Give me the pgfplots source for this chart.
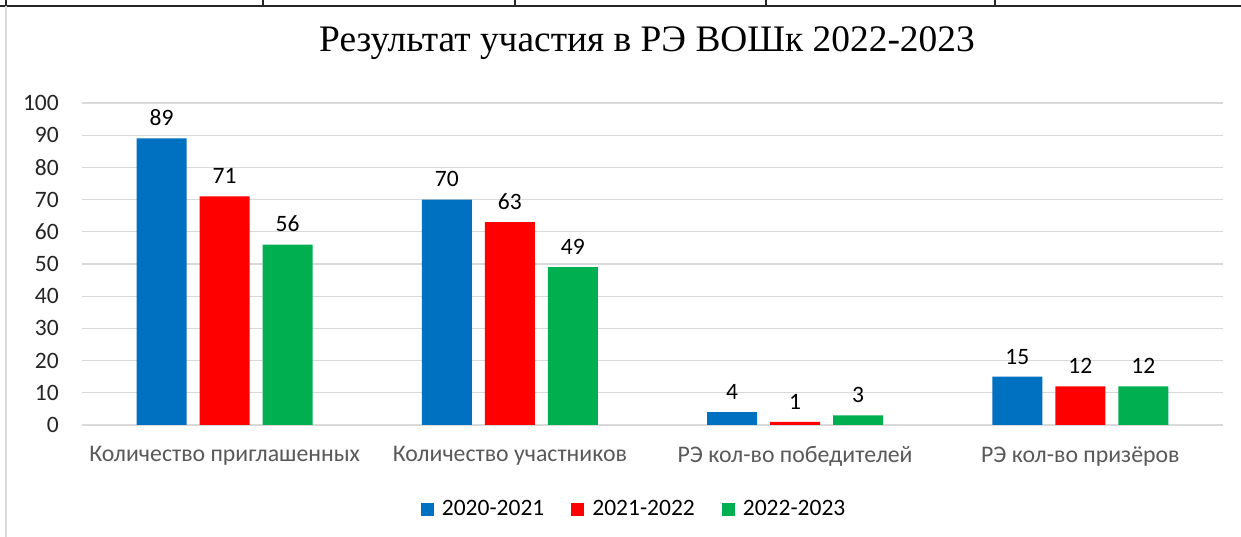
\documentclass[border=0pt]{standalone}
\usepackage{fontspec}
\setmainfont{Carlito}
\newfontfamily\titlefont{Liberation Serif}
\usepackage{pgfplots}
\pgfplotsset{compat=1.18}
\definecolor{cb}{HTML}{0070C0}
\definecolor{cr}{HTML}{FF0000}
\definecolor{cg}{HTML}{00B050}
\definecolor{gridc}{HTML}{D9D9D9}
\definecolor{ticktxt}{HTML}{262626}
\definecolor{cattxt}{HTML}{595959}
\newcommand{\lblfont}{\fontsize{23.5}{28}\selectfont}
\begin{document}
\begin{tikzpicture}
\path[use as bounding box, fill=white] (0pt,0pt) rectangle (1241pt,537pt);
\draw[line width=1.6pt, black!85] (0pt,531pt) -- (1241pt,531pt);
\foreach \x in {6,263,515,766,995} \draw[line width=1.3pt, black!85] (\x pt,537pt) -- (\x pt,531pt);
\draw[line width=1.5pt, gridc] (6pt,531pt) -- (6pt,0pt);
\node[anchor=base, font=\titlefont\fontsize{37.4}{44}\selectfont, text=black] at (647pt,485pt) {Результат участия в РЭ ВОШк 2022-2023};
\begin{axis}[
  at={(82pt,112pt)}, anchor=south west,
  scale only axis, width=1141pt, height=322pt,
  xmin=-0.5, xmax=3.5, ymin=0, ymax=100,
  ytick={0,10,...,100},
  xtick={0,1,2,3},
  xticklabels={Количество приглашенных, Количество участников, РЭ кол-во победителей, РЭ кол-во призёров},
  axis line style={draw=none},
  tick style={draw=none},
  ymajorgrids, grid style={gridc, line width=1.3pt},
  /pgf/number format/assume math mode=true,
  yticklabel style={font=\lblfont, text=ticktxt, anchor=east, inner sep=0pt, xshift=-23pt},
  xticklabel style={font=\fontsize{23.8}{28}\selectfont, text=cattxt, anchor=north, inner sep=0pt, yshift=-17pt},
  ybar=13pt, bar width=50pt,
  nodes near coords,
  every node near coord/.append style={font=\lblfont, text=black, yshift=9pt},
  legend style={at={(0.483,-0.261)}, anchor=center, legend columns=3, draw=none, fill=none,
    font=\lblfont, text=black,
    nodes={inner xsep=0pt},
    /tikz/every odd column/.append style={column sep=8pt},
    /tikz/every even column/.append style={column sep=27pt}},
  legend image code/.code={\fill[#1] (0pt,-6.5pt) rectangle (13pt,6.5pt);},
  clip=false,
]
\addplot[fill=cb, draw=none] coordinates {(0,89) (1,70) (2,4) (3,15)};
\addplot[fill=cr, draw=none] coordinates {(0,71) (1,63) (2,1) (3,12)};
\addplot[fill=cg, draw=none] coordinates {(0,56) (1,49) (2,3) (3,12)};
\legend{2020-2021, 2021-2022, 2022-2023}
\end{axis}
\end{tikzpicture}
\end{document}
